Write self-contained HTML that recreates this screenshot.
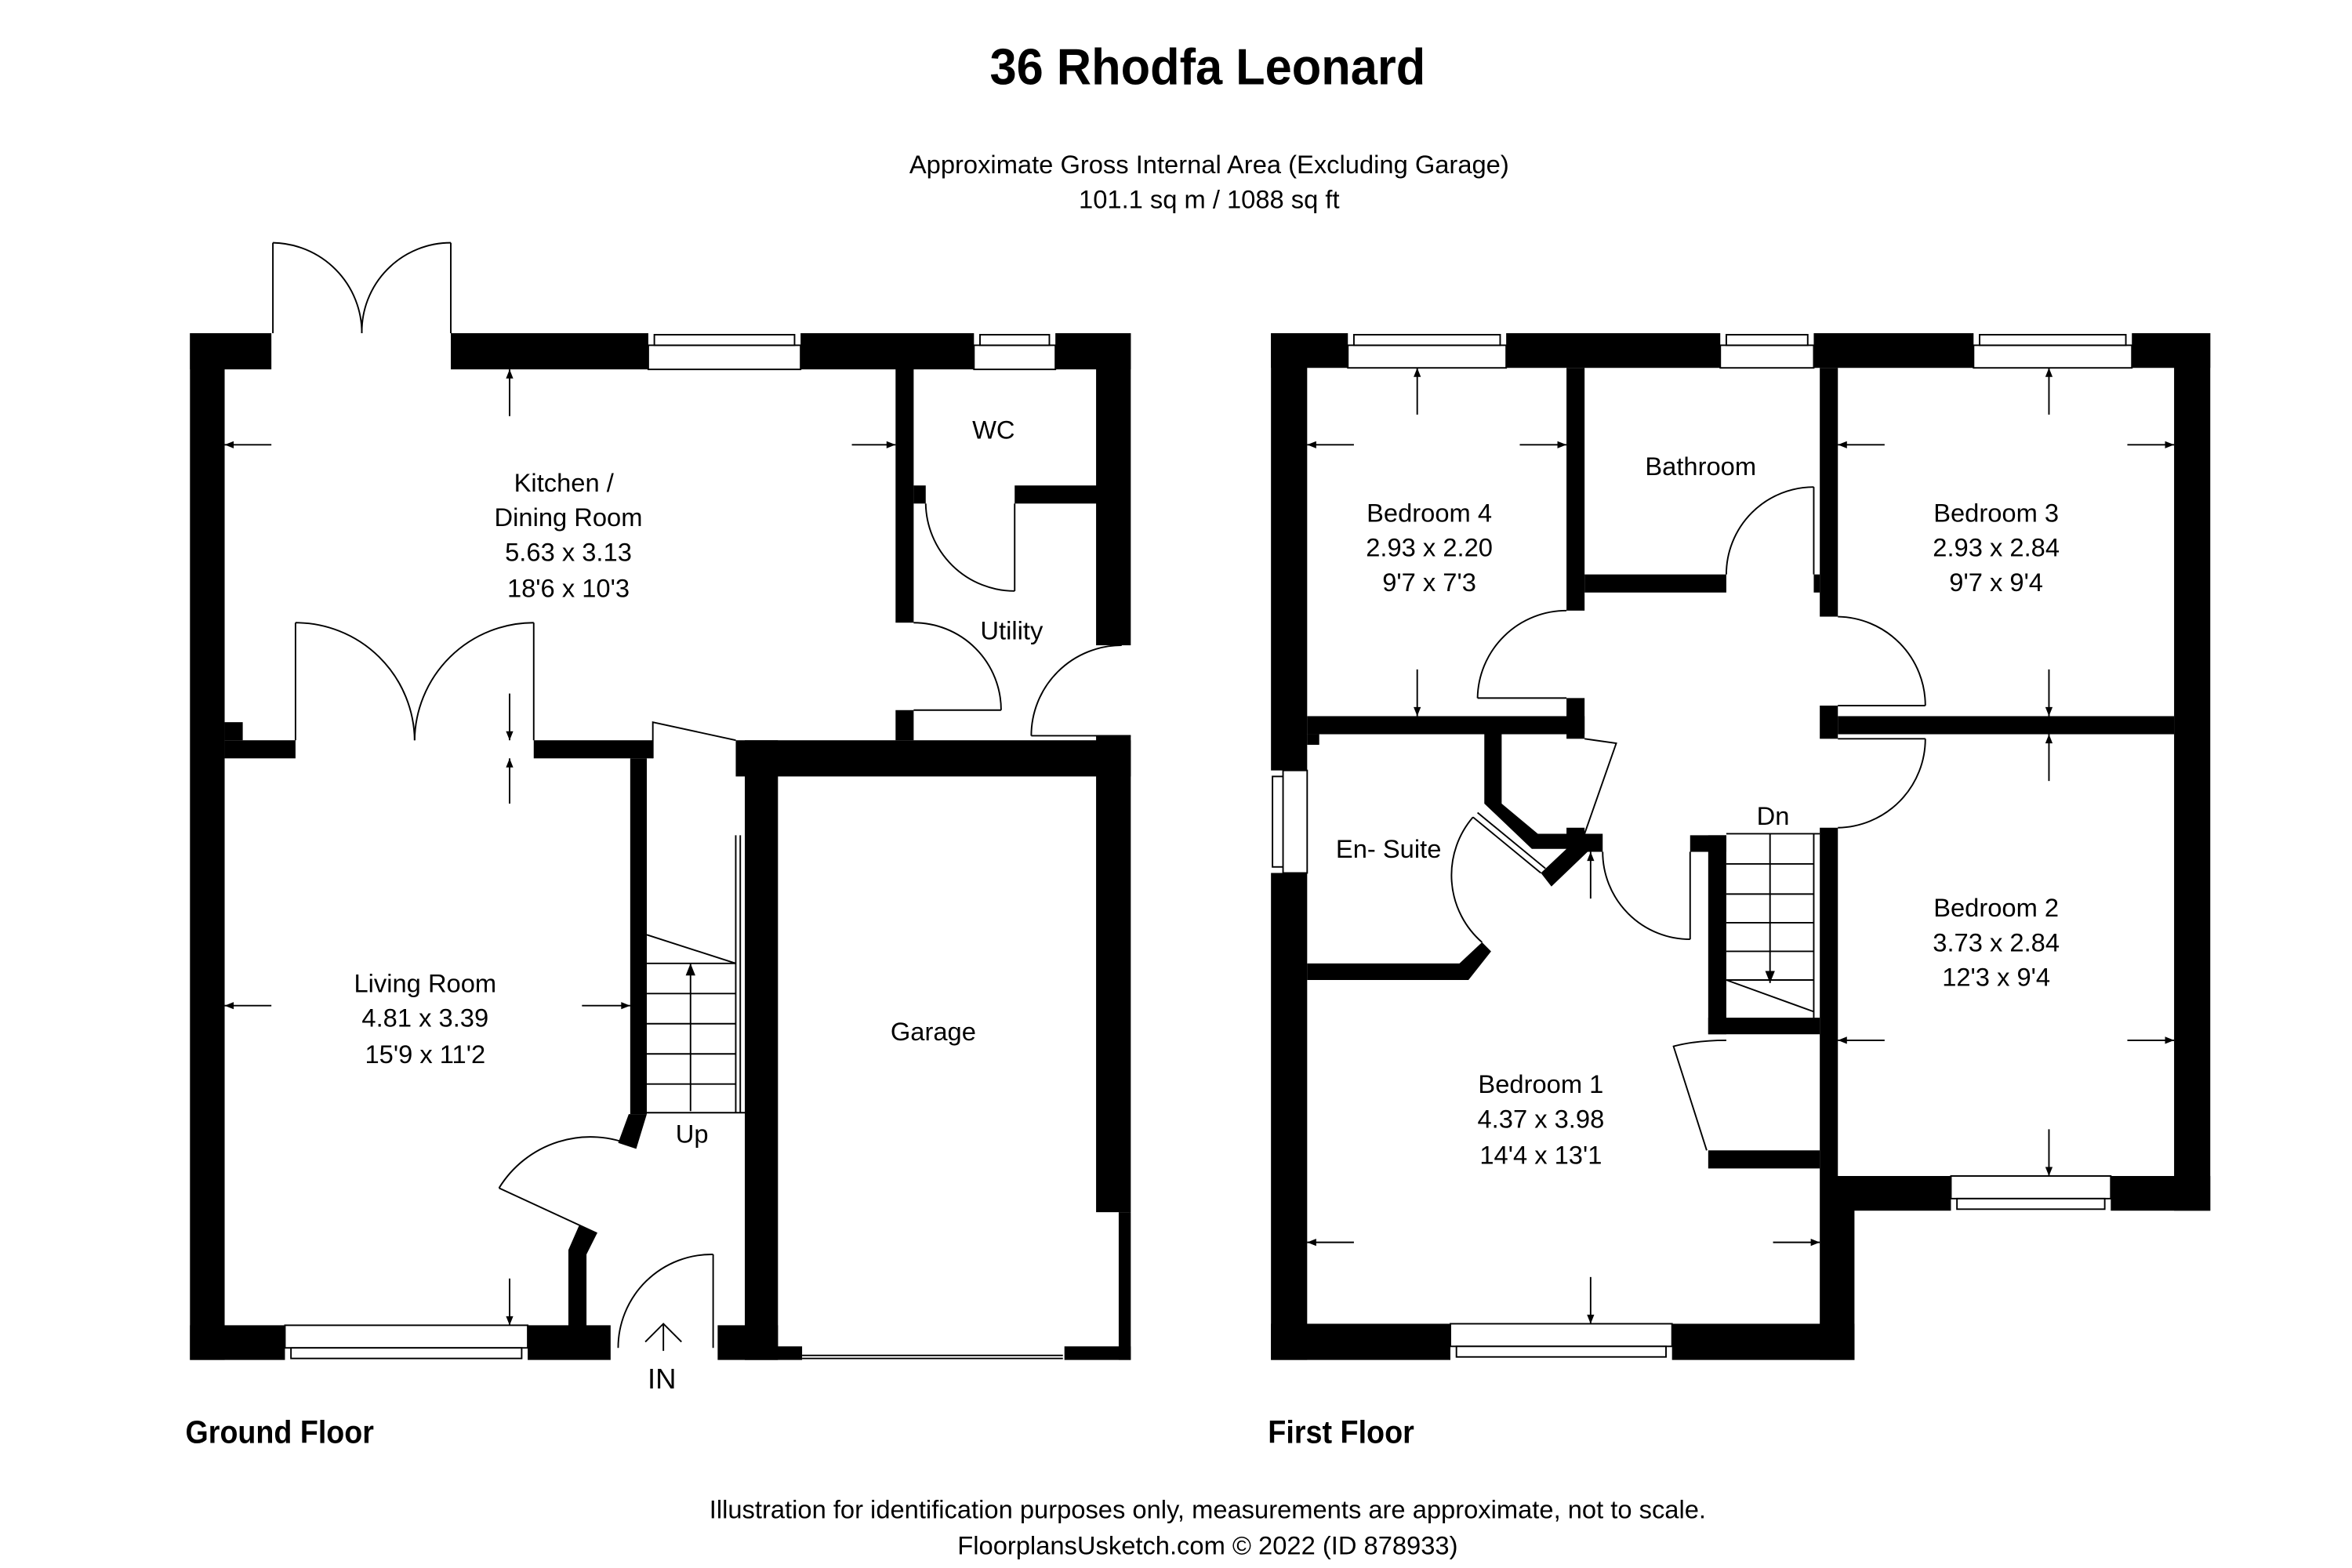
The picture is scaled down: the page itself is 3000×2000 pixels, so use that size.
<!DOCTYPE html>
<html><head><meta charset="utf-8"><style>
html,body{margin:0;padding:0;background:#fff;}
svg{display:block;}
text{font-family:"Liberation Sans",Arial,sans-serif;fill:#000;}
</style></head><body>
<svg width="3000" height="2000" viewBox="0 0 1560 1040" xmlns="http://www.w3.org/2000/svg">
<defs>
<marker id="ah" viewBox="0 0 10 10" refX="10" refY="5" markerWidth="9" markerHeight="6" orient="auto" markerUnits="userSpaceOnUse"><path d="M0,1 L10,5 L0,9 z" fill="#000"/></marker>
<marker id="ah2" viewBox="0 0 10 10" refX="10" refY="5" markerWidth="14" markerHeight="8" orient="auto" markerUnits="userSpaceOnUse"><path d="M0,1 L10,5 L0,9 z" fill="#000"/></marker>
</defs>
<rect width="1560" height="1040" fill="#fff"/>

<!-- Titles -->
<text x="801" y="56" font-size="34" font-weight="bold" text-anchor="middle" textLength="289" lengthAdjust="spacingAndGlyphs">36 Rhodfa Leonard</text>
<text x="802" y="115" font-size="17" text-anchor="middle">Approximate Gross Internal Area (Excluding Garage)</text>
<text x="802" y="138" font-size="17" text-anchor="middle">101.1 sq m / 1088 sq ft</text>
<text x="123" y="957" font-size="21" font-weight="bold" textLength="125" lengthAdjust="spacingAndGlyphs">Ground Floor</text>
<text x="841" y="957" font-size="21" font-weight="bold" textLength="97" lengthAdjust="spacingAndGlyphs">First Floor</text>
<text x="801" y="1007" font-size="17" text-anchor="middle">Illustration for identification purposes only, measurements are approximate, not to scale.</text>
<text x="801" y="1031" font-size="17" text-anchor="middle">FloorplansUsketch.com © 2022 (ID 878933)</text>

<!-- ================= GROUND FLOOR ================= -->
<g fill="#000">
<!-- outer left -->
<rect x="126" y="221" width="23" height="681"/>
<!-- top wall -->
<rect x="126" y="221" width="54" height="24"/>
<rect x="299" y="221" width="131" height="24"/>
<rect x="531" y="221" width="115" height="24"/>
<rect x="700" y="221" width="50" height="24"/>
<!-- right wall -->
<rect x="727" y="221" width="23" height="207"/>
<rect x="727" y="488" width="23" height="316"/>
<rect x="742" y="804" width="8" height="98"/>
<!-- bottom wall -->
<rect x="126" y="879" width="63" height="23"/>
<rect x="350" y="879" width="55" height="23"/>
<rect x="476" y="879" width="40" height="23"/>
<rect x="494" y="893" width="38" height="9"/>
<rect x="706" y="893" width="44" height="9"/>
<!-- garage walls -->
<rect x="494" y="491" width="22" height="411"/>
<rect x="488" y="491" width="262" height="24"/>
<!-- kitchen / living division -->
<rect x="149" y="491" width="47" height="12"/>
<rect x="149" y="479" width="12" height="12"/>
<rect x="354" y="491" width="79" height="12"/>
<!-- hallway left wall -->
<rect x="418" y="503" width="11" height="236"/>
<polygon points="417,739 429,739 422,762 410,758"/>
<polygon points="384,813 396,818 389,832 389,880 377,880 377,829"/>
<!-- WC / utility -->
<rect x="594" y="244" width="12" height="169"/>
<rect x="594" y="471" width="12" height="20"/>
<rect x="606" y="322" width="8" height="12"/>
<rect x="673" y="322" width="55" height="12"/>
</g>
<g fill="#fff" stroke="#000" stroke-width="1">
<!-- windows ground -->
<rect x="430" y="229" width="101" height="16"/><rect x="434" y="222" width="93" height="7"/>
<rect x="646" y="229" width="54" height="16"/><rect x="650" y="222" width="46" height="7"/>
<rect x="189" y="879" width="161" height="15"/><rect x="193" y="894" width="153" height="7"/>
<line x1="532" y1="899" x2="705" y2="899"/><line x1="532" y1="901" x2="705" y2="901"/>
</g>
<g fill="none" stroke="#000" stroke-width="1">
<!-- french doors top -->
<line x1="181" y1="221" x2="181" y2="161"/><path d="M181,161 A60,60 0 0 1 240,221"/>
<line x1="299" y1="221" x2="299" y2="161"/><path d="M299,161 A59,59 0 0 0 240,221"/>
<!-- french doors between kitchen and living -->
<line x1="196" y1="491" x2="196" y2="413"/><path d="M196,413 A79,79 0 0 1 275,491"/>
<line x1="354" y1="491" x2="354" y2="413"/><path d="M354,413 A79,79 0 0 0 275,491"/>
<!-- hall top door -->
<polyline points="433,503 433,479 488,491"/>
<!-- WC door -->
<line x1="673" y1="334" x2="673" y2="392"/><path d="M673,392 A59,59 0 0 1 614,334"/>
<!-- utility door from kitchen -->
<line x1="606" y1="471" x2="664" y2="471"/><path d="M664,471 A58,58 0 0 0 606,413"/>
<!-- utility outer door -->
<line x1="684" y1="488" x2="750" y2="488"/><path d="M684,488 A60,60 0 0 1 744,428"/>
<!-- front door -->
<line x1="473" y1="832" x2="473" y2="894"/><path d="M473,832 A62,62 0 0 0 410,894"/>
<!-- living room door -->
<line x1="396" y1="818" x2="331" y2="788"/><path d="M331,788 A71,71 0 0 1 420,760"/>
<!-- stairs -->
<line x1="488" y1="554" x2="488" y2="738"/><line x1="491" y1="554" x2="491" y2="738"/>
<line x1="429" y1="620" x2="488" y2="639"/>
<line x1="429" y1="639" x2="488" y2="639"/>
<line x1="429" y1="659" x2="488" y2="659"/>
<line x1="429" y1="679" x2="488" y2="679"/>
<line x1="429" y1="699" x2="488" y2="699"/>
<line x1="429" y1="719" x2="488" y2="719"/>
<line x1="429" y1="738" x2="494" y2="738"/>
<!-- IN arrow -->
<line x1="440" y1="896" x2="440" y2="878"/><polyline points="428,890 440,878 452,890"/>
</g>
<g stroke="#000" stroke-width="1" fill="none">
<line x1="458" y1="737" x2="458" y2="639" marker-end="url(#ah2)"/>
<!-- dimension arrows ground -->
<line x1="338" y1="276" x2="338" y2="245" marker-end="url(#ah)"/>
<line x1="180" y1="295" x2="149" y2="295" marker-end="url(#ah)"/>
<line x1="565" y1="295" x2="594" y2="295" marker-end="url(#ah)"/>
<line x1="338" y1="460" x2="338" y2="491" marker-end="url(#ah)"/>
<line x1="338" y1="533" x2="338" y2="503" marker-end="url(#ah)"/>
<line x1="180" y1="667" x2="149" y2="667" marker-end="url(#ah)"/>
<line x1="386" y1="667" x2="418" y2="667" marker-end="url(#ah)"/>
<line x1="338" y1="848" x2="338" y2="879" marker-end="url(#ah)"/>
</g>
<g font-size="17" text-anchor="middle">
<text x="374" y="326">Kitchen /</text>
<text x="377" y="349">Dining Room</text>
<text x="377" y="372">5.63 x 3.13</text>
<text x="377" y="396">18'6 x 10'3</text>
<text x="659" y="291">WC</text>
<text x="671" y="424">Utility</text>
<text x="282" y="658">Living Room</text>
<text x="282" y="681">4.81 x 3.39</text>
<text x="282" y="705">15'9 x 11'2</text>
<text x="619" y="690">Garage</text>
<text x="459" y="758">Up</text>
<text x="439" y="921" font-size="19">IN</text>
</g>

<!-- ================= FIRST FLOOR ================= -->
<g fill="#000">
<rect x="843" y="221" width="24" height="290"/>
<rect x="843" y="579" width="24" height="323"/>
<rect x="843" y="221" width="51" height="23"/>
<rect x="999" y="221" width="142" height="23"/>
<rect x="1203" y="221" width="106" height="23"/>
<rect x="1414" y="221" width="52" height="23"/>
<rect x="1442" y="221" width="24" height="582"/>
<rect x="1219" y="780" width="75" height="23"/>
<rect x="1400" y="780" width="66" height="23"/>
<rect x="1207" y="549" width="12" height="231"/>
<rect x="1207" y="780" width="23" height="122"/>
<rect x="843" y="878" width="119" height="24"/>
<rect x="1109" y="878" width="121" height="24"/>
<!-- bed4 / bath -->
<rect x="1039" y="244" width="12" height="161"/>
<rect x="1039" y="463" width="12" height="27"/>
<rect x="867" y="475" width="184" height="12"/>
<rect x="867" y="487" width="8" height="7"/>
<rect x="1051" y="381" width="94" height="12"/>
<rect x="1203" y="381" width="4" height="12"/>
<rect x="1207" y="244" width="12" height="165"/>
<rect x="1207" y="468" width="12" height="22"/>
<rect x="1219" y="475" width="223" height="12"/>
<!-- ensuite walls -->
<polygon points="984.5,487 996,487 996,533 1020,553 1063,553 1063,565 1053,565 1029,588 1022,579 1039,563 1016,563 984.5,533"/>
<rect x="1039" y="549" width="12" height="5"/>
<polygon points="867,639 968,639 983,625 989,631 974,650 867,650"/>
<!-- stair enclosure -->
<rect x="1121" y="554" width="24" height="11"/>
<rect x="1133" y="554" width="12" height="132"/>
<rect x="1133" y="675" width="74" height="11"/>
<rect x="1133" y="763" width="74" height="12"/>
</g>
<g fill="#fff" stroke="#000" stroke-width="1">
<rect x="894" y="229" width="105" height="15"/><rect x="898" y="222" width="97" height="7"/>
<rect x="1141" y="229" width="62" height="15"/><rect x="1145" y="222" width="54" height="7"/>
<rect x="1309" y="229" width="105" height="15"/><rect x="1313" y="222" width="97" height="7"/>
<rect x="1294" y="780" width="106" height="15"/><rect x="1298" y="795" width="98" height="7"/>
<rect x="962" y="878" width="147" height="15"/><rect x="966" y="893" width="139" height="7"/>
<rect x="851" y="511" width="16" height="68"/><rect x="844" y="515" width="7" height="60"/>
</g>
<g fill="none" stroke="#000" stroke-width="1">
<!-- bed4 door -->
<line x1="1039" y1="463" x2="980" y2="463"/><path d="M980,463 A59,59 0 0 1 1039,405"/>
<!-- bathroom door -->
<line x1="1203" y1="381" x2="1203" y2="323"/><path d="M1203,323 A58,58 0 0 0 1145,381"/>
<!-- bed3 door -->
<line x1="1219" y1="468" x2="1277" y2="468"/><path d="M1277,468 A59,59 0 0 0 1219,409"/>
<!-- bed2 door -->
<line x1="1219" y1="490" x2="1277" y2="490"/><path d="M1277,490 A59,59 0 0 1 1219,549"/>
<!-- hall small door -->
<polyline points="1051,490 1072,493 1051,553"/>
<!-- ensuite door -->
<line x1="1022" y1="579" x2="977" y2="542"/><line x1="1025" y1="576" x2="980" y2="539"/>
<path d="M977,542 A59,59 0 0 0 983,625"/>
<!-- bed1 door -->
<line x1="1121" y1="565" x2="1121" y2="623"/><path d="M1063,565 A58,58 0 0 0 1121,623"/>
<!-- cupboard door -->
<path d="M1145,690 Q1125,690 1110,694 L1132,763"/>
<!-- stairs -->
<line x1="1145" y1="553" x2="1207" y2="553"/>
<line x1="1203" y1="553" x2="1203" y2="675"/>
<line x1="1145" y1="573" x2="1203" y2="573"/>
<line x1="1145" y1="593" x2="1203" y2="593"/>
<line x1="1145" y1="612" x2="1203" y2="612"/>
<line x1="1145" y1="631" x2="1203" y2="631"/>
<line x1="1145" y1="650" x2="1203" y2="650"/>
<line x1="1145" y1="650" x2="1203" y2="671"/>
</g>
<g stroke="#000" stroke-width="1" fill="none">
<line x1="1174" y1="553" x2="1174" y2="652" marker-end="url(#ah2)"/>
<line x1="1055" y1="596" x2="1055" y2="565" marker-end="url(#ah)"/>
<!-- bed4 -->
<line x1="940" y1="275" x2="940" y2="244" marker-end="url(#ah)"/>
<line x1="940" y1="444" x2="940" y2="475" marker-end="url(#ah)"/>
<line x1="898" y1="295" x2="867" y2="295" marker-end="url(#ah)"/>
<line x1="1008" y1="295" x2="1039" y2="295" marker-end="url(#ah)"/>
<!-- bed3 -->
<line x1="1359" y1="275" x2="1359" y2="244" marker-end="url(#ah)"/>
<line x1="1359" y1="444" x2="1359" y2="475" marker-end="url(#ah)"/>
<line x1="1250" y1="295" x2="1219" y2="295" marker-end="url(#ah)"/>
<line x1="1411" y1="295" x2="1442" y2="295" marker-end="url(#ah)"/>
<!-- bed2 -->
<line x1="1359" y1="518" x2="1359" y2="487" marker-end="url(#ah)"/>
<line x1="1359" y1="749" x2="1359" y2="780" marker-end="url(#ah)"/>
<line x1="1250" y1="690" x2="1219" y2="690" marker-end="url(#ah)"/>
<line x1="1411" y1="690" x2="1442" y2="690" marker-end="url(#ah)"/>
<!-- bed1 -->
<line x1="898" y1="824" x2="867" y2="824" marker-end="url(#ah)"/>
<line x1="1176" y1="824" x2="1207" y2="824" marker-end="url(#ah)"/>
<line x1="1055" y1="847" x2="1055" y2="878" marker-end="url(#ah)"/>
</g>
<g font-size="17" text-anchor="middle">
<text x="948" y="346">Bedroom 4</text>
<text x="948" y="369">2.93 x 2.20</text>
<text x="948" y="392">9'7 x 7'3</text>
<text x="1128" y="315">Bathroom</text>
<text x="1324" y="346">Bedroom 3</text>
<text x="1324" y="369">2.93 x 2.84</text>
<text x="1324" y="392">9'7 x 9'4</text>
<text x="921" y="569">En- Suite</text>
<text x="1176" y="547">Dn</text>
<text x="1324" y="608">Bedroom 2</text>
<text x="1324" y="631">3.73 x 2.84</text>
<text x="1324" y="654">12'3 x 9'4</text>
<text x="1022" y="725">Bedroom 1</text>
<text x="1022" y="748">4.37 x 3.98</text>
<text x="1022" y="772">14'4 x 13'1</text>
</g>
</svg>
</body></html>
